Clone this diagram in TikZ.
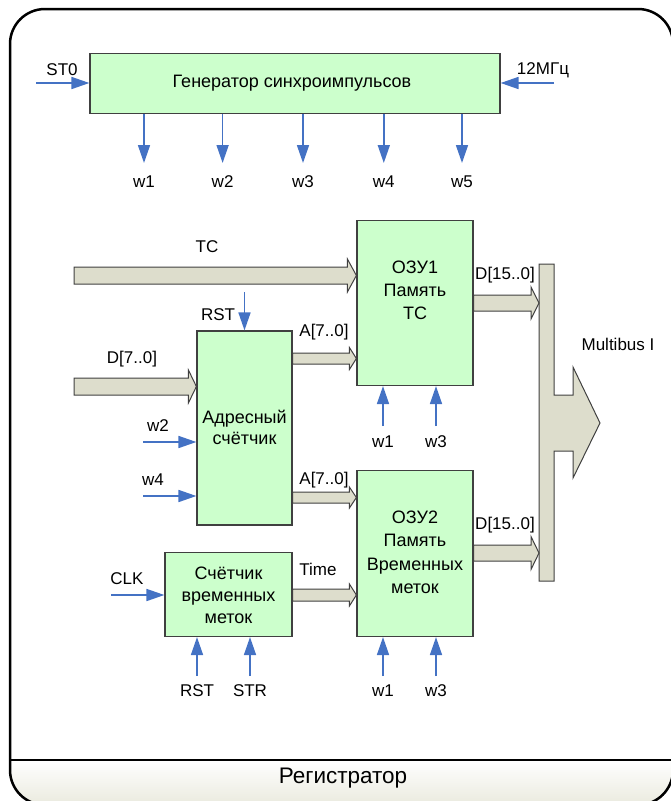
\documentclass[tikz,border=0pt]{standalone}
\usepackage{fontspec}
\setmainfont{Liberation Sans}
\usetikzlibrary{arrows.meta,calc}
\definecolor{boxfill}{RGB}{204,255,204}
\definecolor{boxline}{RGB}{64,64,64}
\definecolor{busfill}{RGB}{221,221,204}
\definecolor{sigblue}{RGB}{68,114,196}
\definecolor{bandbot}{RGB}{234,234,222}
\newcommand{\busarrow}[5]{%
  \draw[bus] let \p1=(#1), \p2=(#2) in
    (\x1,\y2+#3) -- (\x2-#5,\y2+#3) -- (\x2-#5,\y2+#4) -- (\x2,\y2)
    -- (\x2-#5,\y2-#4) -- (\x2-#5,\y2-#3) -- (\x1,\y2-#3) -- cycle;}
\begin{document}
\begin{tikzpicture}[x=1pt,y=-1pt,
  font=\fontsize{17}{20}\selectfont,
  box/.style={draw=boxline, fill=boxfill, line width=1.2pt, inner sep=0pt},
  bus/.style={draw=boxline, fill=busfill, line width=1pt, line join=miter},
  sig/.style={draw=sigblue, line width=1.7pt, -{Triangle[length=18pt,width=12pt]}},
  lbl/.style={inner sep=0pt},
  txt/.style={align=center, inner sep=0pt, font=\fontsize{18}{22}\selectfont}]
\useasboundingbox (0,0) rectangle (670,801);
% frame and band
\begin{scope}
  \clip[rounded corners=35pt] (10,9) rectangle (673,805);
  \shade[top color=white, bottom color=bandbot] (10,760) rectangle (673,805);
\end{scope}
\draw[line width=2.5pt] (10,760) -- (673,760);
\draw[line width=2.5pt, rounded corners=35pt] (10,9) rectangle (673,805);
\node[txt, font=\fontsize{22.5}{26}\selectfont] (title) at (343,778) {Регистратор};

% boxes
\node[box, minimum width=410pt, minimum height=60pt] (gen) at (295,83.5) {};
\node[txt] (gent) at (292,83) {Генератор синхроимпульсов};
\node[box, minimum width=116pt, minimum height=165pt] (o1) at (415,303) {};
\node[txt, font=\fontsize{18}{23}\selectfont] (o1t) at (415,290) {ОЗУ1\\Память\\ТС};
\node[box, minimum width=116pt, minimum height=166pt] (o2) at (415,553.5) {};
\node[txt, font=\fontsize{18}{23.5}\selectfont] (o2t) at (415,552.5) {ОЗУ2\\Память\\Временных\\меток};
\node[box, minimum width=95pt, minimum height=194pt] (adr) at (244.5,428) {};
\node[txt, font=\fontsize{18}{21}\selectfont] (adrt) at (244.5,427.5) {Адресный\\счётчик};
\node[box, minimum width=127pt, minimum height=84pt] (cnt) at (228.5,594.5) {};
\node[txt] (cntt) at (228.5,595) {Счётчик\\временных\\меток};

% Multibus bar with arrow
\draw[bus] (539,264) -- (554,264) -- (554,395) -- (573,395) -- (573,367) -- (600,423)
  -- (573,478) -- (573,451) -- (554,451) -- (554,581) -- (539,581) -- cycle;
\coordinate (bar) at (539,422);
\node[lbl] (mb) at (618,344) {Multibus I};

% bus arrows
\coordinate (tcS) at (74,275.5);
\busarrow{tcS}{o1.west |- tcS}{8.5pt}{16.5pt}{9pt}
\coordinate (dS) at (74,386.5);
\busarrow{dS}{adr.west |- dS}{8.5pt}{16.5pt}{8pt}
\coordinate (a1S) at (adr.east |- 0,358.5);
\busarrow{a1S}{o1.west |- a1S}{5.5pt}{11pt}{7pt}
\coordinate (a2S) at (adr.east |- 0,497.5);
\busarrow{a2S}{o2.west |- a2S}{5.5pt}{10.5pt}{7pt}
\coordinate (tS) at (cnt.east |- 0,595);
\busarrow{tS}{o2.west |- tS}{6pt}{11pt}{7pt}
\coordinate (d1S) at (o1.east |- 0,303);
\busarrow{d1S}{bar |- d1S}{8pt}{16pt}{8pt}
\coordinate (d2S) at (o2.east |- 0,553);
\busarrow{d2S}{bar |- d2S}{8pt}{16.5pt}{8pt}

% labels for bus arrows
\node[lbl] (tcl) at (207,247) {ТС};
\node[lbl] (dl) at (132,359) {D[7..0]};
\node[lbl] (a1l) at (324,332) {A[7..0]};
\node[lbl] (a2l) at (324,480) {A[7..0]};
\node[lbl] (tl) at (318,569) {Time};
\node[lbl] (d1l) at (505,275) {D[15..0]};
\node[lbl] (d2l) at (505,525) {D[15..0]};

% generator signals
\coordinate (st0S) at (36,83);
\draw[sig] (st0S) -- (gen.west |- st0S);
\node[lbl] (st0) at (62,70) {ST0};
\coordinate (mhzS) at (554,83);
\draw[sig] (mhzS) -- (gen.east |- mhzS);
\node[lbl] (mhz) at (543,70) {12МГц};
\foreach \xx/\nm in {144/1,222.6/2,303/3,383.8/4,462/5}{
  \coordinate (gw\nm) at (\xx,163);
  \draw[sig] (gen.south -| gw\nm) -- (gw\nm);
  \node[lbl] (gwl\nm) at (\xx,182) {w\nm};
}

% address counter signals
\coordinate (rstA) at (244.5,292);
\draw[sig] (rstA) -- (adr.north -| rstA);
\node[lbl] (rstAl) at (218,315) {RST};
\coordinate (w2S) at (143,442);
\draw[sig] (w2S) -- (adr.west |- w2S);
\node[lbl] (w2l) at (158,426) {w2};
\coordinate (w4S) at (143,496);
\draw[sig] (w4S) -- (adr.west |- w4S);
\node[lbl] (w4l) at (153,480) {w4};

% RAM1 signals
\coordinate (o1w1) at (383,426);
\draw[sig] (o1w1) -- (o1.south -| o1w1);
\node[lbl] (o1w1l) at (383,442) {w1};
\coordinate (o1w3) at (436,426);
\draw[sig] (o1w3) -- (o1.south -| o1w3);
\node[lbl] (o1w3l) at (436,442) {w3};

% RAM2 signals
\coordinate (o2w1) at (383,676);
\draw[sig] (o2w1) -- (o2.south -| o2w1);
\node[lbl] (o2w1l) at (383,691) {w1};
\coordinate (o2w3) at (436,676);
\draw[sig] (o2w3) -- (o2.south -| o2w3);
\node[lbl] (o2w3l) at (436,691) {w3};

% time counter signals
\coordinate (clkS) at (111,595);
\draw[sig] (clkS) -- (cnt.west |- clkS);
\node[lbl] (clkl) at (127,579) {CLK};
\coordinate (rstC) at (197,676);
\draw[sig] (rstC) -- (cnt.south -| rstC);
\node[lbl] (rstCl) at (197,691) {RST};
\coordinate (strC) at (250,676);
\draw[sig] (strC) -- (cnt.south -| strC);
\node[lbl] (strCl) at (250,691) {STR};
\end{tikzpicture}
\end{document}
